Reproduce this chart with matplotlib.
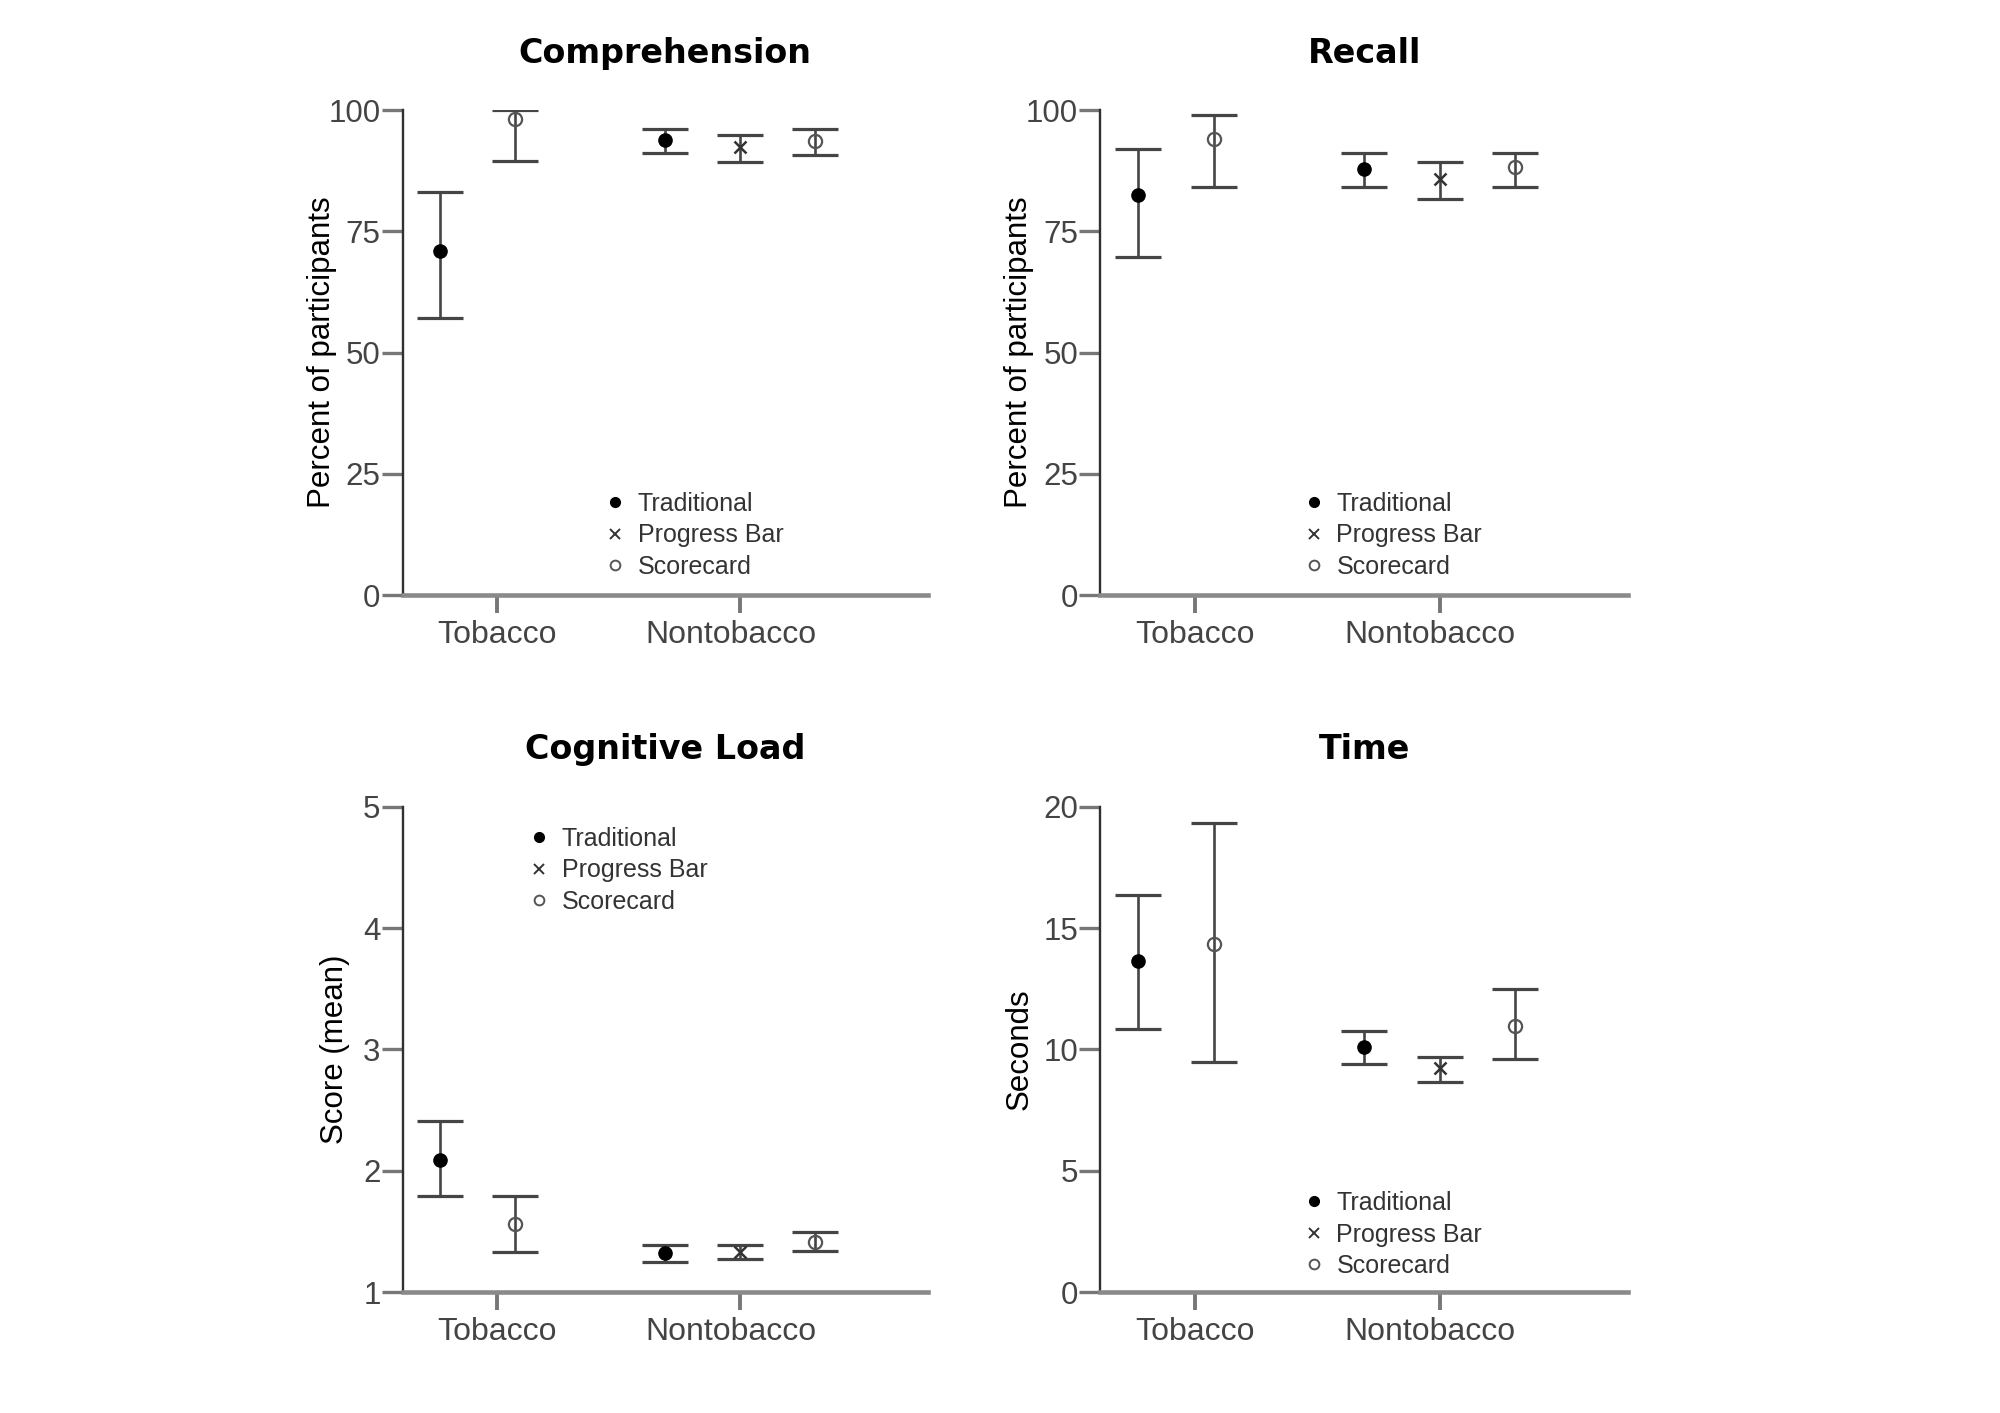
import numpy as np
import matplotlib
matplotlib.use("Agg")
import matplotlib.pyplot as plt
from matplotlib.lines import Line2D

# data (5 points per panel, in plotting order)
groups = ["Tobacco", "Nontobacco"]
point_group = [0, 0, 1, 1, 1]
point_cond = ["Traditional", "Scorecard", "Traditional", "Progress Bar", "Scorecard"]
conditions = ["Traditional", "Progress Bar", "Scorecard"]

comp_mean = [71.0, 98.2, 93.9, 92.3, 93.6]
comp_low = [57.1, 89.5, 91.2, 89.2, 90.8]
comp_high = [83.1, 100.0, 96.2, 94.9, 96.2]

recall_mean = [82.5, 94.0, 87.9, 85.8, 88.3]
recall_low = [69.8, 84.1, 84.1, 81.7, 84.1]
recall_high = [92.0, 98.9, 91.2, 89.2, 91.2]

load_mean = [2.09, 1.56, 1.32, 1.33, 1.41]
load_low = [1.79, 1.33, 1.25, 1.27, 1.335]
load_high = [2.41, 1.79, 1.39, 1.39, 1.495]

time_mean = [13.63, 14.35, 10.08, 9.22, 10.98]
time_low = [10.85, 9.46, 9.38, 8.64, 9.60]
time_high = [16.36, 19.32, 10.74, 9.70, 12.49]

# layout
group_start = [0.5, 3.5]
group_tick = [1.25, 4.5]
group_label_pos = [1.25, 4.37]  # Nontobacco label sits a bit left of its tick
REG = ["Liberation Sans", "DejaVu Sans"]

styles = {
    "Traditional": dict(marker="o", color="black", mfc="black", mec="black", ms=9.5),
    "Progress Bar": dict(marker="x", color="#333333", mew=1.8, ms=9),
    "Scorecard": dict(marker="o", color="#555555", mfc="none", mec="#555555", mew=1.6, ms=9.5),
}
leg_styles = {
    "Traditional": dict(marker="o", color="black", mfc="black", mec="black", ms=7),
    "Progress Bar": dict(marker="x", color="#333333", mew=1.4, ms=6.5),
    "Scorecard": dict(marker="o", color="#555555", mfc="none", mec="#555555", mew=1.4, ms=7),
}


def x_positions():
    xs = []
    seen = [0, 0]
    for g in point_group:
        xs.append(group_start[g] + seen[g])
        seen[g] += 1
    return np.array(xs)


def panel(rect, title, ylabel, mean, low, high, ylim, yticks, leg_anchor, ylab_x):
    ax = fig.add_axes(rect)
    x = x_positions()
    mean = np.array(mean)
    err = [mean - np.array(low), np.array(high) - mean]
    ax.errorbar(x, mean, yerr=err, fmt="none", ecolor="#454545",
                elinewidth=1.9, capsize=16.5, capthick=2.3, zorder=2)
    for cond in conditions:
        idx = [i for i, c in enumerate(point_cond) if c == cond]
        ax.plot(x[idx], mean[idx], ls="none", zorder=3, **styles[cond])

    ax.set_xlim(0, 7)
    ax.set_ylim(*ylim)
    ax.set_yticks(yticks)
    ax.set_yticklabels([str(t) for t in yticks], family=REG, fontsize=22.5, color="#444444")
    # tick marks on major ticks, category names on (invisible) minor ticks
    ax.xaxis.remove_overlapping_locs = False
    ax.set_xticks(group_tick)
    ax.set_xticklabels([])
    ax.set_xticks(group_label_pos, minor=True)
    ax.set_xticklabels(groups, minor=True, family=REG, fontsize=23, color="#444444")
    for s in ["top", "right"]:
        ax.spines[s].set_visible(False)
    ax.spines["left"].set_color("#303030")
    ax.spines["left"].set_linewidth(1.7)
    ax.spines["bottom"].set_color("#8a8a8a")
    ax.spines["bottom"].set_linewidth(3.3)
    ax.spines["left"].set_bounds(ylim[0], ylim[1])
    ax.tick_params(axis="y", length=15, width=2.4, color="#777777", pad=1)
    ax.tick_params(axis="x", which="major", length=13, width=2.8, color="#777777")
    ax.tick_params(axis="x", which="minor", length=0, pad=18)
    ax.set_title(title, fontsize=24, fontweight="bold", family="DejaVu Sans", pad=34)
    ax.set_ylabel(ylabel, family=REG, fontsize=22.5, color="black")
    ax.yaxis.set_label_coords(ylab_x, 0.5)
    ax.patch.set_visible(False)

    handles = [Line2D([], [], ls="none", **leg_styles[c]) for c in conditions]
    ax.legend(handles, conditions, loc="center left", bbox_to_anchor=leg_anchor,
              frameon=False, borderpad=0, borderaxespad=0, handlelength=0.6,
              handletextpad=0.6, labelspacing=0.3,
              prop=dict(family=REG, size=18), labelcolor="#333333")
    return ax


fig = plt.figure(figsize=(20, 14.13), dpi=100)

panel([0.2014, 0.5789, 0.2625, 0.3432], "Comprehension", "Percent of participants",
      comp_mean, comp_low, comp_high, (0, 100), [0, 25, 50, 75, 100], (0.39, 0.123), -0.125)
panel([0.5502, 0.5789, 0.264, 0.3432], "Recall", "Percent of participants",
      recall_mean, recall_low, recall_high, (0, 100), [0, 25, 50, 75, 100], (0.39, 0.123), -0.125)
panel([0.2014, 0.0856, 0.2625, 0.3435], "Cognitive Load", "Score (mean)",
      load_mean, load_low, load_high, (1, 5), [1, 2, 3, 4, 5], (0.246, 0.869), -0.10)
panel([0.5502, 0.0856, 0.264, 0.3435], "Time", "Seconds",
      time_mean, time_low, time_high, (0, 20), [0, 5, 10, 15, 20], (0.39, 0.1185), -0.125)

fig.savefig("out.png", dpi=100)
